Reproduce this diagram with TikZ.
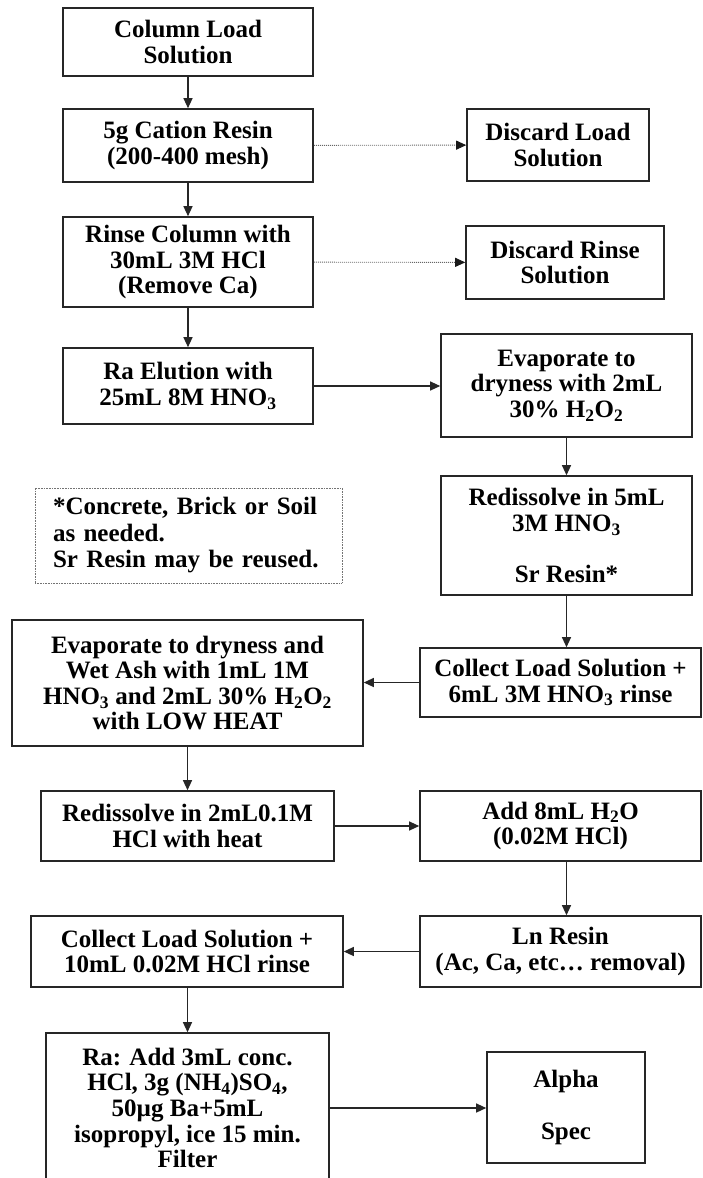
\documentclass[tikz,border=0pt]{standalone}
\usepackage{fontspec}
\setmainfont{Liberation Serif}
\usetikzlibrary{arrows.meta}

\begin{document}
\begin{tikzpicture}[x=1pt,y=1pt,yscale=-1,xscale=1,
  stepbox/.style={draw=black!85,line width=1.6pt,align=center,inner sep=0pt,font=\fontsize{25}{25.6}\selectfont\bfseries},
  notebox/.style={draw=black!55,line width=0.8pt,dash pattern=on 0.8pt off 0.8pt,align=left,inner sep=0pt,font=\fontsize{25}{26.5}\selectfont\bfseries},
  flow/.style={draw=black!85,line width=1.2pt,-{Triangle[length=10pt,width=9pt]}},
  waste/.style={draw=black!60,line width=0.9pt,dash pattern=on 1pt off 1pt,-{Triangle[length=10pt,width=9pt,color=black!90]}}]
\useasboundingbox (0,0) rectangle (703,1178);
\clip (0,0) rectangle (703,1178);

%Left column
\node[stepbox,minimum width=250pt,minimum height=68pt] (load) at (188,42) {Column Load\\Solution};
\node[stepbox,minimum width=250pt,minimum height=73pt] (cation) at (188,145.5) {5g Cation Resin\\(200-400 mesh)};
\node[stepbox,minimum width=250pt,minimum height=90pt] (rinse) at (188,262) {Rinse Column with\\30mL 3M HCl\\(Remove Ca)};
\node[stepbox,minimum width=250pt,minimum height=76pt] (elution) at (188,386) {Ra Elution with\\25mL 8M HNO\textsubscript{3}};

%Discard boxes
\node[stepbox,minimum width=182pt,minimum height=72pt] (discload) at (558,145) {Discard Load\\Solution};
\node[stepbox,minimum width=198pt,minimum height=73pt] (discrinse) at (565,262.5) {Discard Rinse\\Solution};

%Right column
\node[stepbox,minimum width=251pt,minimum height=103pt] (evap) at (566.5,385.5) {Evaporate to\\dryness with 2mL\\30\% H\textsubscript{2}O\textsubscript{2}};
\node[stepbox,minimum width=251pt,minimum height=119pt] (redis) at (566.5,535.5) {Redissolve in 5mL\\3M HNO\textsubscript{3}\\[25pt]Sr Resin*};
\node[stepbox,minimum width=281pt,minimum height=69pt] (collsr) at (560.5,682.5) {Collect Load Solution +\\6mL 3M HNO\textsubscript{3} rinse};
\node[stepbox,minimum width=281pt,minimum height=70pt] (water) at (560.5,826) {Add 8mL H\textsubscript{2}O\\(0.02M HCl)};
\node[stepbox,minimum width=281pt,minimum height=71pt] (lnres) at (560.5,951.5) {Ln Resin\\(Ac, Ca, etc… removal)};
\node[stepbox,minimum width=158pt,minimum height=111pt] (alpha) at (566,1107.5) {Alpha\\[27pt]Spec};

%Note
\node[notebox,minimum width=307pt,minimum height=95pt,text width=271pt] (note) at (188.5,535.5) {*Concrete, Brick or Soil\\as needed.\\Sr Resin may be reused.};

%Lower left column
\node[stepbox,minimum width=351pt,minimum height=126pt] (wetash) at (187.5,683) {Evaporate to dryness and\\Wet Ash with 1mL 1M\\HNO\textsubscript{3} and 2mL 30\% H\textsubscript{2}O\textsubscript{2}\\with LOW HEAT};
\node[stepbox,minimum width=293pt,minimum height=70pt] (redis2) at (187.5,826) {Redissolve in 2mL0.1M\\HCl with heat};
\node[stepbox,minimum width=312pt,minimum height=71pt] (collln) at (187,951.5) {Collect Load Solution +\\10mL 0.02M HCl rinse};
\node[stepbox,minimum width=283pt,minimum height=150pt] (radd) at (187.5,1108) {Ra: Add 3mL conc.\\HCl, 3g (NH\textsubscript{4})SO\textsubscript{4},\\50µg Ba+5mL\\isopropyl, ice 15 min.\\Filter};

%Connectors
\draw[flow] (load) -- (cation);
\draw[waste] (cation) -- (discload);
\draw[flow] (cation) -- (rinse);
\draw[waste] (rinse) -- (discrinse);
\draw[flow] (rinse) -- (elution);
\draw[flow] (elution.east) -- (elution.east -| evap.west);
\draw[flow] (evap) -- (redis);
\draw[flow] (redis.south) -- (redis.south |- collsr.north);
\draw[flow] (collsr.west) -- (collsr.west -| wetash.east);
\draw[flow] (wetash) -- (redis2);
\draw[flow] (redis2.east) -- (redis2.east -| water.west);
\draw[flow] (water.south -| redis.south) -- (lnres.north -| redis.south);
\draw[flow] (lnres.west) -- (lnres.west -| collln.east);
\draw[flow] (collln.south -| radd.north) -- (radd.north);
\draw[flow] (radd.east) -- (radd.east -| alpha.west);
\end{tikzpicture}
\end{document}
